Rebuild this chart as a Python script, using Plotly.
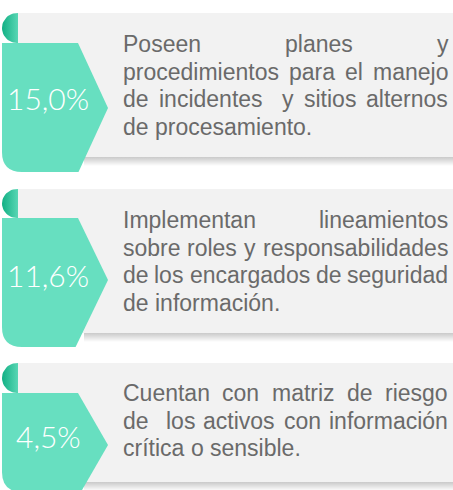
import math
import plotly.graph_objects as go

# ---------------- data ----------------
percentages = ["15,0%", "11,6%", "4,5%"]
descriptions = [
    ["Poseen planes y",
     "procedimientos para el manejo",
     "de incidentes  y sitios alternos",
     "de procesamiento."],
    ["Implementan lineamientos",
     "sobre roles y responsabilidades",
     "de los encargados de seguridad",
     "de información."],
    ["Cuentan con matriz de riesgo",
     "de  los activos con información",
     "crítica o sensible."],
]

# ---------------- layout parameters (pixels) ----------------
W, H = 453, 490
panel_top = [13, 189, 363]
panel_bot = [157, 333, 482]
tab_top = [43, 218, 393]
tab_pt = [108, 280, 445]
tab_bot = [172, 347, 492]
pct_center = [97.5, 274.5, 435.5]
first_base = [51, 227, 400]
line_gap = 27.6
text_left, text_right = 122, 447
body_size = 23
pct_size = 30

TEAL = "#67dfc0"
DARK = "#12b084"
GRAY = "#f2f2f2"
TXT = "#6a6a6a"

# Arial / Liberation Sans advance widths (1/1000 em)
AW = dict(a=556, b=556, c=500, d=556, e=556, f=278, g=556, h=556, i=222, j=222,
          k=500, l=222, m=833, n=556, o=556, p=556, q=556, r=333, s=500, t=278,
          u=556, v=500, w=722, x=500, y=500, z=500)
AW.update({"P": 667, "I": 278, "C": 722, "ó": 556, "í": 278, "á": 556,
           ".": 278, " ": 278, ",": 278})


def tw(s, size):
    return sum(AW.get(ch, 556) for ch in s) * size / 1000.0


fig = go.Figure()
shapes = []
annotations = []

for k in range(3):
    gt, gb = panel_top[k], panel_bot[k]
    # shadow under panel
    fig.add_trace(go.Scatter(
        x=[84, W, W, 84, 84], y=[gb - 1, gb - 1, gb + 9, gb + 9, gb - 1],
        mode="lines", line=dict(width=0), fill="toself",
        fillgradient=dict(type="vertical", start=gb - 1, stop=gb + 9,
                          colorscale=[[0, "#c4c4c4"], [0.35, "#d8d8d8"], [1, "#ffffff"]]),
        hoverinfo="skip", showlegend=False))
    # gray panel
    shapes.append(dict(type="rect", xref="x", yref="y", x0=18, x1=W, y0=gt, y1=gb,
                       fillcolor=GRAY, line=dict(width=0), layer="above"))
    # tab
    t, p, b = tab_top[k], tab_pt[k], tab_bot[k]
    slope = 30.0 / (p - t)
    xb = 108 - slope * (b - p)
    r = 20
    path = (f"M 2,{t} L 78,{t} L 108,{p} L {xb:.1f},{b} L {2 + r},{b} "
            f"Q 2,{b} 2,{b - r} Z")
    shapes.append(dict(type="path", xref="x", yref="y", path=path,
                       fillcolor=TEAL, line=dict(width=0), layer="above"))

    # percentage
    annotations.append(dict(x=48, y=pct_center[k], xref="x", yref="y",
                            text=percentages[k], showarrow=False,
                            xanchor="center", yanchor="middle",
                            font=dict(family="Lato", size=pct_size, color="white", weight=300)))

    # body text, justified
    lines = descriptions[k]
    for i, line in enumerate(lines):
        base = first_base[k] + i * line_gap
        yc = base - 7
        words = line.split(" ")
        if i < len(lines) - 1 and len(words) > 1:
            total = sum(tw(wd, body_size) for wd in words)
            gap = (text_right - text_left - total) / (len(words) - 1)
        else:
            gap = tw(" ", body_size)
        xpos = text_left
        for wd in words:
            if wd:
                annotations.append(dict(x=xpos, y=yc, xref="x", yref="y", text=wd,
                                        showarrow=False, xanchor="left", yanchor="middle",
                                        borderpad=0,
                                        font=dict(family="Liberation Sans, Arial",
                                                  size=body_size, color=TXT)))
            xpos += tw(wd, body_size) + gap

# curls (rolled top of the tab) with gradient
for k in range(3):
    gt = panel_top[k]
    t = tab_top[k]
    rr = (t - gt) / 2.0
    cy = gt + rr
    xs, ys = [18], [gt]
    n = 24
    for j in range(n + 1):
        ang = math.pi / 2 + math.pi * j / n
        xs.append(17 + 15 * math.cos(ang))
        ys.append(cy - rr * math.sin(ang))
    xs += [2, 18, 18]
    ys += [t + 1, t + 1, gt]
    fig.add_trace(go.Scatter(
        x=xs, y=ys, mode="lines", line=dict(width=0), fill="toself",
        fillgradient=dict(type="horizontal", start=2, stop=18,
                          colorscale=[[0, DARK], [1, "#58d6b4"]]),
        hoverinfo="skip", showlegend=False))

fig.update_layout(
    width=W, height=H, margin=dict(l=0, r=0, t=0, b=0),
    paper_bgcolor="white", plot_bgcolor="white",
    xaxis=dict(range=[0, W], visible=False, fixedrange=True),
    yaxis=dict(range=[H, 0], visible=False, fixedrange=True),
    shapes=shapes, annotations=annotations, showlegend=False,
)
fig.write_html("out.html", config={"displayModeBar": False},
               post_script="document.body.style.margin='0';document.body.style.overflow='hidden';")
